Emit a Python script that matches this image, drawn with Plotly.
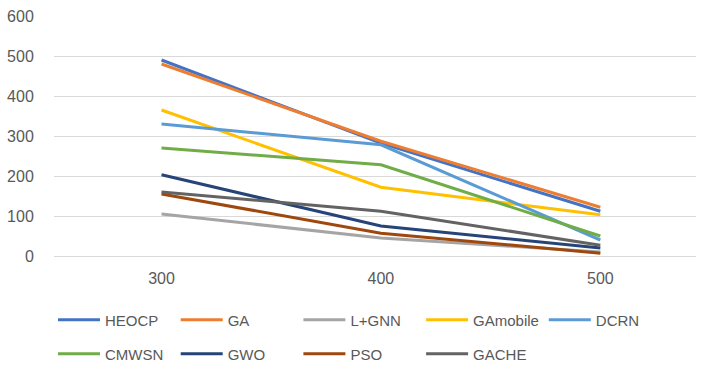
import plotly.graph_objects as go

x_vals = [300, 400, 500]
series_names = ["HEOCP", "GA", "L+GNN", "GAmobile", "DCRN", "CMWSN", "GWO", "PSO", "GACHE"]
heocp = [490, 282, 112]
ga = [480, 287, 122]
lgnn = [105, 45, 10]
gamobile = [365, 172, 103]
dcrn = [330, 278, 40]
cmwsn = [270, 228, 50]
gwo = [203, 75, 20]
pso = [155, 57, 7]
gache = [160, 112, 27]
series_values = [heocp, ga, lgnn, gamobile, dcrn, cmwsn, gwo, pso, gache]
colors = ["#4472C4", "#ED7D31", "#A5A5A5", "#FFC000", "#5B9BD5",
          "#70AD47", "#264478", "#9E480E", "#636363"]
y_ticks = [0, 100, 200, 300, 400, 500, 600]

FONT = "Liberation Sans, Arial, sans-serif"

fig = go.Figure()
for i, (name, vals, col) in enumerate(zip(series_names, series_values, colors)):
    fig.add_trace(go.Scatter(
        x=x_vals, y=vals, name=name, mode="lines",
        line=dict(color=col, width=3),
        legend="legend" if i < 5 else "legend2",
    ))

leg_common = dict(
    orientation="h", xref="container", yref="container",
    xanchor="left", yanchor="middle",
    font=dict(family=FONT, size=15, color="#595959"),
    entrywidth=65.7, entrywidthmode="pixels", itemwidth=42,
    bgcolor="rgba(0,0,0,0)", traceorder="normal",
)

fig.update_layout(
    width=703, height=369,
    margin=dict(l=52, r=7, t=16, b=113),
    paper_bgcolor="white", plot_bgcolor="white",
    font=dict(family=FONT, size=16, color="#595959"),
    xaxis=dict(
        range=[251, 543.6], tickvals=x_vals, ticktext=[str(v) for v in x_vals],
        showgrid=False, zeroline=False, showline=False,
        ticks="outside", ticklen=8, tickcolor="rgba(0,0,0,0)",
        tickfont=dict(family=FONT, size=16, color="#595959"),
    ),
    yaxis=dict(
        range=[0, 600], tickvals=y_ticks,
        showgrid=True, gridcolor="#D9D9D9", gridwidth=1,
        zeroline=True, zerolinecolor="#D9D9D9", zerolinewidth=1,
        showline=False, ticks="outside", ticklen=16, tickcolor="rgba(0,0,0,0)",
        tickfont=dict(family=FONT, size=16, color="#595959"),
    ),
    legend=dict(x=53/703, y=1 - 320/369, **leg_common),
    legend2=dict(x=53/703, y=1 - 354/369, **leg_common),
)

fig.write_html("out.html")
